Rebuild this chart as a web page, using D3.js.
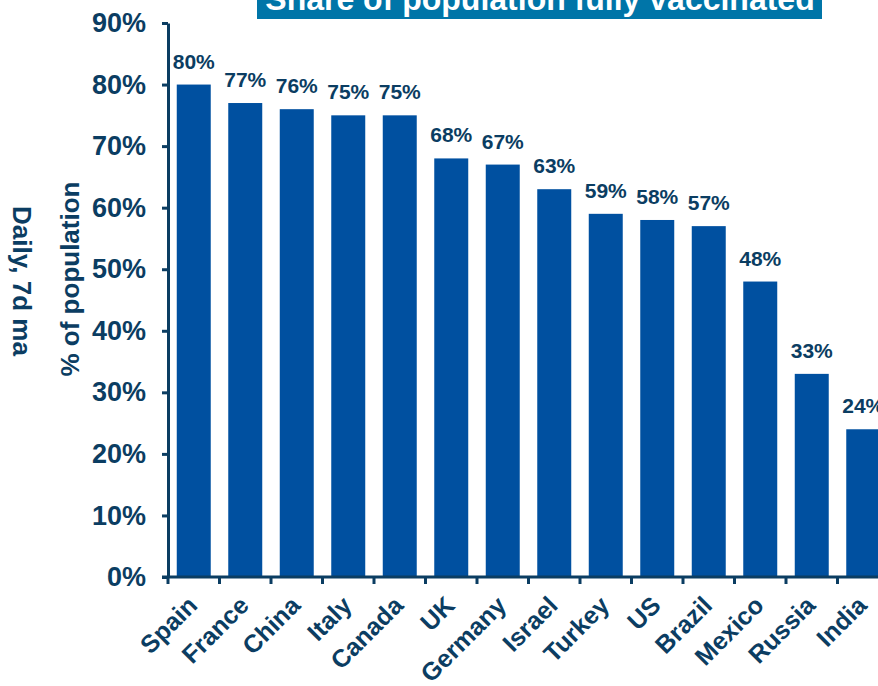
<!DOCTYPE html>
<html><head><meta charset="utf-8">
<script src="https://cdn.jsdelivr.net/npm/d3@7"></script>
<style>body{margin:0;background:#fff}svg{display:block}text{font-family:"Liberation Sans",Arial,sans-serif;font-weight:bold}</style>
</head><body>
<script>
const countries = ["Spain","France","China","Italy","Canada","UK","Germany","Israel","Turkey","US","Brazil","Mexico","Russia","India"];
const values = [80,77,76,75,75,68,67,63,59,58,57,48,33,24];
const yTicks = [0,10,20,30,40,50,60,70,80,90];
const titleText = "Share of population fully vaccinated";

const W = 878, H = 686;
const axisColor = "#0b3d62", barColor = "#0050a0", textColor = "#0b3d62";
const svg = d3.select("body").append("svg").attr("width", W).attr("height", H);

const x = d3.scaleBand().domain(countries).range([168, 889]).paddingInner(0.34).paddingOuter(0.17);
const y = d3.scaleLinear().domain([0, 90]).range([577, 23]);

// title box
svg.append("rect").attr("x", 257).attr("y", -10).attr("width", 565).attr("height", 29).attr("fill", "#0075a8");
svg.append("text").attr("x", 540).attr("y", 10).attr("text-anchor", "middle").attr("fill", "#fff")
  .attr("font-size", 32).text(titleText);

// bars
svg.selectAll("rect.bar").data(values).enter().append("rect").attr("class", "bar")
  .attr("x", (d, i) => x(countries[i])).attr("width", x.bandwidth())
  .attr("y", d => y(d)).attr("height", d => y(0) - y(d)).attr("fill", barColor);

// value labels
svg.selectAll("text.val").data(values).enter().append("text").attr("class", "val")
  .attr("x", (d, i) => x(countries[i]) + x.bandwidth() / 2).attr("y", d => y(d) - 16)
  .attr("text-anchor", "middle").attr("font-size", 21).attr("fill", textColor).text(d => d + "%");

// y axis
const yAxis = svg.append("g").attr("transform", "translate(168,0)")
  .call(d3.axisLeft(y).tickValues(yTicks).tickFormat(d => d + "%").tickSize(6).tickSizeOuter(0));
yAxis.select(".domain").attr("stroke", axisColor).attr("stroke-width", 3);
yAxis.selectAll(".tick line").attr("stroke", axisColor).attr("stroke-width", 3);
yAxis.selectAll(".tick text").attr("font-size", 27).attr("fill", textColor).attr("x", -22)
  .attr("font-family", "Liberation Sans, Arial, sans-serif").attr("font-weight", "bold");

// x axis
const bandStarts = countries.map(c => x(c) - x.step() * x.paddingInner() / 2);
const xg = svg.append("g");
xg.append("line").attr("x1", 162).attr("x2", W).attr("y1", 577).attr("y2", 577)
  .attr("stroke", axisColor).attr("stroke-width", 3);
xg.selectAll("line.t").data(bandStarts).enter().append("line").attr("class", "t")
  .attr("x1", d => d).attr("x2", d => d).attr("y1", 577).attr("y2", 584)
  .attr("stroke", axisColor).attr("stroke-width", 3);
xg.selectAll("text.xl").data(countries).enter().append("text").attr("class", "xl")
  .attr("transform", c => `translate(${x(c) + x.bandwidth() / 2 + 5},${607}) rotate(-45)`)
  .attr("text-anchor", "end").attr("font-size", 25).attr("fill", textColor).text(c => c);

// axis titles
svg.append("text").attr("transform", "translate(70,279) rotate(-90)").attr("text-anchor", "middle")
  .attr("dy", "0.35em").attr("font-size", 26).attr("fill", textColor).text("% of population");
svg.append("text").attr("transform", "translate(22,281) rotate(90)").attr("text-anchor", "middle")
  .attr("dy", "0.35em").attr("font-size", 26).attr("fill", textColor).text("Daily, 7d ma");
</script>
</body></html>
